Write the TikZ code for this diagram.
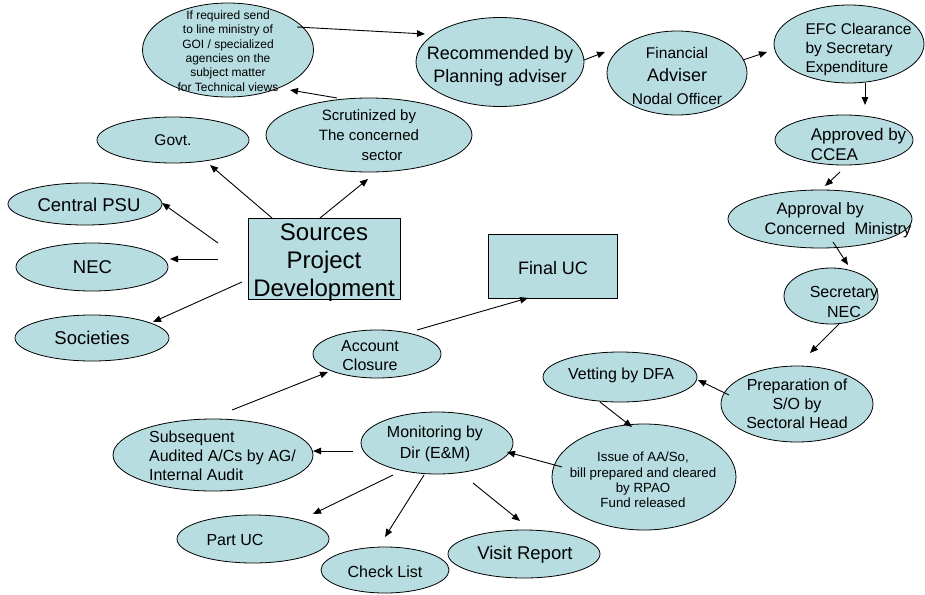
\documentclass[tikz,border=0pt]{standalone}
\usepackage{fontspec}
\setmainfont{Liberation Sans}
\usetikzlibrary{shapes.geometric,arrows.meta}
\definecolor{fillc}{RGB}{183,221,225}
\newcommand{\fsz}[2]{\fontsize{#1}{#2}\selectfont}
\begin{document}
\begin{tikzpicture}[x=1pt,y=-1pt,
  ell/.style={ellipse, draw=black, fill=fillc, line width=0.8pt, inner sep=0pt},
  boxn/.style={rectangle, draw=black, fill=fillc, line width=0.8pt, inner sep=0pt, align=center},
  txt/.style={align=center, inner sep=0pt},
  txl/.style={align=left, inner sep=0pt},
  arr/.style={-{Triangle[length=8pt,width=6.5pt]}, line width=0.9pt}]
\useasboundingbox (0,0) rectangle (925,594);

% top row
\node[ell, minimum width=171pt, minimum height=94pt,
  label={[txt, font=\fsz{12}{14.4}, shift={(0,1)}]center:{If required send\\to line ministry of\\GOI / specialized\\agencies on the\\subject matter\\for Technical views}}] (ifr) at (228,50) {};
\node[ell, minimum width=168pt, minimum height=89pt,
  label={[txt, font=\fsz{18}{23}, shift={(0,4)}]center:{Recommended by\\Planning adviser}}] (rec) at (500,62) {};
\node[ell, minimum width=140pt, minimum height=84pt,
  label={[txt, font=\fsz{15.5}{23}, shift={(0,3)}]center:{Financial\\{\fsz{18}{23}Adviser}\\Nodal Officer}}] (fin) at (677,73) {};
\node[ell, minimum width=150pt, minimum height=78pt,
  label={[txl, font=\fsz{15.5}{19}, shift={(9.5,5)}]center:{EFC Clearance\\by Secretary\\Expenditure}}] (efc) at (849,44) {};

% right column
\node[ell, minimum width=138pt, minimum height=50pt,
  label={[txl, font=\fsz{17}{20}, shift={(14.5,4)}]center:{Approved by\\CCEA}}] (appd) at (844,140) {};
\node[ell, minimum width=184pt, minimum height=58pt,
  label={[txl, font=\fsz{16.5}{20}, shift={(18,1)}]center:{\hspace*{12pt}Approval by\\Concerned\ \ Ministry}}] (appr) at (820,219) {};
\node[ell, minimum width=94pt, minimum height=56pt,
  label={[txt, font=\fsz{16}{20}, shift={(13,6)}]center:{Secretary\\NEC}}] (secn) at (831,296) {};
\node[ell, minimum width=152pt, minimum height=76pt,
  label={[txt, font=\fsz{16}{19}]center:{Preparation of\\S/O by\\Sectoral Head}}] (prep) at (797,404) {};
\node[ell, minimum width=154pt, minimum height=50pt,
  label={[txt, font=\fsz{16}{19}, shift={(1,-2)}]center:{Vetting by DFA}}] (vet) at (620,377) {};
\node[ell, minimum width=184pt, minimum height=106pt,
  label={[txt, font=\fsz{13.3}{15.3}, shift={(-1,3)}]center:{Issue of AA/So,\\bill prepared and cleared\\by RPAO\\Fund released}}] (iss) at (644,477) {};

% bottom
\node[ell, minimum width=152pt, minimum height=62pt,
  label={[txt, font=\fsz{16}{21}, shift={(-2,1)}]center:{Monitoring by\\Dir (E\&M)}}] (mon) at (437,443) {};
\node[ell, minimum width=200pt, minimum height=72pt,
  label={[txl, font=\fsz{16}{19}, shift={(9.5,1)}]center:{Subsequent\\Audited A/Cs by AG/\\Internal Audit}}] (sub) at (213,455) {};
\node[ell, minimum width=128pt, minimum height=48pt,
  label={[txt, font=\fsz{16}{19}, shift={(-7,1.5)}]center:{Account\\Closure}}] (acc) at (377,354) {};
\node[ell, minimum width=152pt, minimum height=48pt,
  label={[txt, font=\fsz{16}{19}, shift={(-18,1)}]center:{Part UC}}] (part) at (253,539) {};
\node[ell, minimum width=128pt, minimum height=46pt,
  label={[txt, font=\fsz{16}{19}, shift={(0,2)}]center:{Check List}}] (chk) at (385,570) {};
\node[ell, minimum width=152pt, minimum height=48pt,
  label={[txt, font=\fsz{18.5}{22}, shift={(1,1)}]center:{Visit Report}}] (vis) at (524,554) {};

% boxes
\node[boxn, minimum width=129pt, minimum height=64pt,
  label={[txt, font=\fsz{18}{22}, shift={(0.5,2)}]center:{Final UC}}] (fuc) at (552.5,266) {};
\node[boxn, minimum width=152pt, minimum height=81pt,
  label={[txt, font=\fsz{24}{28}, shift={(0,4)}]center:{Sources\\Project\\Development}}] (src) at (324,258.5) {};

% left sources
\node[ell, minimum width=152pt, minimum height=46pt,
  label={[txt, font=\fsz{15.5}{18}]center:{Govt.}}] (govt) at (173,140) {};
\node[ell, minimum width=206pt, minimum height=74pt,
  label={[txt, font=\fsz{15}{20}]center:{Scrutinized by\\The concerned\\\hspace*{26pt}sector}}] (scr) at (369,135) {};
\node[ell, minimum width=154pt, minimum height=42pt,
  label={[txt, font=\fsz{18.5}{22}, shift={(4,1)}]center:{Central PSU}}] (cpsu) at (85,204) {};
\node[ell, minimum width=152pt, minimum height=48pt,
  label={[txt, font=\fsz{18.5}{22}, shift={(0.5,0)}]center:{NEC}}] (nec) at (92,267) {};
\node[ell, minimum width=154pt, minimum height=46pt,
  label={[txt, font=\fsz{18.5}{22}]center:{Societies}}] (soc) at (92,338) {};

% connectors
\draw[arr] ([shift={(-52,-40.5)}]src.center) -- ([shift={(37,25)}]govt.center);
\draw[arr] ([shift={(-4,-40.5)}]src.center) -- ([shift={(-1,44)}]scr.center);
\draw[arr] ([shift={(-106,-15.5)}]src.center) -- ([shift={(77,-1)}]cpsu.center);
\draw[arr] ([shift={(-106,0.5)}]src.center) -- ([shift={(78,-8)}]nec.center);
\draw[arr] ([shift={(-82,23.5)}]src.center) -- ([shift={(61,-16)}]soc.center);
\draw[arr] ([shift={(-32,-37)}]scr.center) -- ([shift={(62,40)}]ifr.center);
\draw[arr] ([shift={(69,-23)}]ifr.center) -- ([shift={(-75,-28)}]rec.center);
\draw[arr] ([shift={(84,-2)}]rec.center) -- ([shift={(-72,-21)}]fin.center);
\draw[arr] ([shift={(66,-13)}]fin.center) -- ([shift={(-82,8)}]efc.center);
\draw[arr] ([shift={(16,39)}]efc.center) -- ([shift={(21,-35)}]appd.center);
\draw[arr] ([shift={(-4,32)}]appd.center) -- ([shift={(5,-33)}]appr.center);
\draw[arr] ([shift={(13,23)}]appr.center) -- ([shift={(17,-31)}]secn.center);
\draw[arr] ([shift={(9,27)}]secn.center) -- ([shift={(13,-51)}]prep.center);
\draw[arr] ([shift={(-68,-9)}]prep.center) -- ([shift={(78,3)}]vet.center);
\draw[arr] ([shift={(-20,25)}]vet.center) -- ([shift={(-12,-50)}]iss.center);
\draw[arr] ([shift={(-82,-10)}]iss.center) -- ([shift={(70,9)}]mon.center);
\draw[arr] ([shift={(-84,8)}]mon.center) -- ([shift={(100,-4)}]sub.center);
\draw[arr] ([shift={(19,-45)}]sub.center) -- ([shift={(-49,18)}]acc.center);
\draw[arr] ([shift={(40,-24)}]acc.center) -- ([shift={(-24.5,32)}]fuc.center);
\draw[arr] ([shift={(-44,32)}]mon.center) -- ([shift={(60,-25)}]part.center);
\draw[arr] ([shift={(-13,32)}]mon.center) -- ([shift={(0,-33)}]chk.center);
\draw[arr] ([shift={(36,40)}]mon.center) -- ([shift={(-4,-33)}]vis.center);
\end{tikzpicture}
\end{document}
